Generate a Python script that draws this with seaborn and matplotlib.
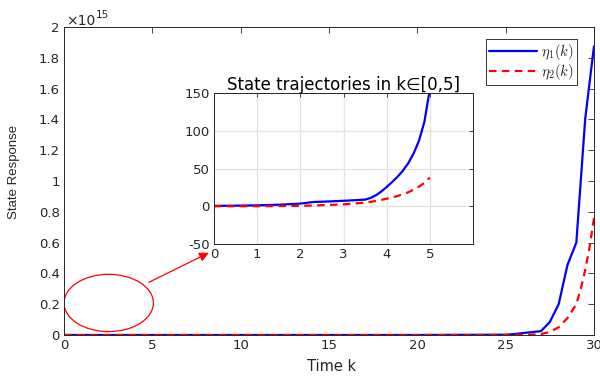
import numpy as np
import pandas as pd
import matplotlib
matplotlib.use("Agg")
import matplotlib.pyplot as plt
from matplotlib.patches import Ellipse
import seaborn as sns

# ---- data (main plot, values in units of 1e15) ----
k_main = [0, 5, 10, 15, 20, 25, 25.5, 26, 26.5, 27, 27.5, 28, 28.5, 29, 29.25, 29.5, 29.75, 30]
eta1_main = [0, 0, 0, 0, 0, 0.002, 0.006, 0.013, 0.019, 0.025, 0.085, 0.2, 0.455, 0.6, 1.0, 1.40, 1.64, 1.875]
eta2_main = [0, 0, 0, 0, 0, 0, 0.001, 0.002, 0.003, 0.006, 0.02, 0.05, 0.11, 0.2, 0.3, 0.42, 0.57, 0.76]

# ---- data (inset, k in [0,5]) ----
k_zoom = [0, 0.5, 1, 1.5, 2, 2.3, 2.5, 3, 3.5, 3.625, 3.75, 3.875, 4, 4.125, 4.25,
          4.375, 4.5, 4.625, 4.75, 4.875, 5]
eta1_zoom = [0.5, 0.8, 1.2, 2.0, 3.5, 5.6, 6.0, 7.2, 8.8, 11, 14.5, 19.5, 25.5, 32, 39,
             47, 57, 70, 87, 112, 155]
eta2_zoom = [0, 0, 0.1, 0.3, 0.6, 1.0, 1.4, 2.5, 4.8, 5.8, 7, 8.4, 10, 11.7, 13.5,
             16, 18.5, 22, 26, 31, 38]

main_xticks = [0, 5, 10, 15, 20, 25, 30]
main_yticks = [0, 0.2, 0.4, 0.6, 0.8, 1.0, 1.2, 1.4, 1.6, 1.8, 2.0]
zoom_xticks = [0, 1, 2, 3, 4, 5]
zoom_yticks = [-50, 0, 50, 100, 150]

sns.set_theme(style="white")
plt.rcParams['font.family'] = ['DejaVu Sans']
plt.rcParams['mathtext.fontset'] = 'cm'

W, H = 600, 376
fig = plt.figure(figsize=(6.0, 3.76), dpi=100)
ax = fig.add_axes([64/W, 1-335/H, 530/W, 308/H])

df_main = pd.DataFrame({'k': k_main, 'eta1': eta1_main, 'eta2': eta2_main})
sns.lineplot(data=df_main, x='k', y='eta1', ax=ax, color='#0000ff', lw=1.6,
             label=r'$\eta_1(k)$')
sns.lineplot(data=df_main, x='k', y='eta2', ax=ax, color='#ff0000', lw=1.6,
             linestyle=(0, (3.4, 2.4)), label=r'$\eta_2(k)$')

edge = '#262626'
ax.set_xlim(0, 30)
ax.set_ylim(0, 2)
ax.set_xticks(main_xticks)
ax.set_yticks(main_yticks)
ax.set_xticklabels([f'{v:g}' for v in main_xticks])
ax.set_yticklabels([f'{v:g}' for v in main_yticks])
ax.tick_params(direction='in', length=4, width=0.6, top=True, right=True,
               labelsize=9.5, colors=edge, pad=3)
for s in ax.spines.values():
    s.set_color(edge)
    s.set_linewidth(0.7)
ax.set_xlabel('Time k', fontsize=10.5, color=edge)
ax.xaxis.set_label_coords(0.505, -0.078)
ax.set_ylabel('State Response', fontsize=9.5, color=edge,
              family=['Liberation Sans', 'DejaVu Sans'])
ax.yaxis.set_label_coords(-0.083, 0.53)

# exponent label
fig.text(66/W, 1-25/H, '\u00d710', fontsize=10, color=edge, ha='left', va='baseline')
fig.text(96/W, 1-18/H, '15', fontsize=7.5, color=edge, ha='left', va='baseline')

leg = ax.legend(loc='upper right', bbox_to_anchor=((577-64)/530, (335-39)/308),
                borderaxespad=0, fancybox=False, frameon=True, fontsize=10.5,
                handlelength=3.3, handletextpad=0.3, borderpad=0.2, labelspacing=0.0)
leg.get_frame().set_edgecolor('black')
leg.get_frame().set_linewidth(0.7)

# ellipse + arrow
ax.add_patch(Ellipse((2.53, 0.208), 5.06, 0.372, fill=False, edgecolor='red', lw=0.9))
ax.annotate('', xy=(8.2, 0.534), xytext=(4.8, 0.342),
            arrowprops=dict(arrowstyle='-|>', color='red', lw=0.9,
                            mutation_scale=14, shrinkA=0, shrinkB=0))

# ---- inset ----
ax2 = fig.add_axes([214/W, 1-244/H, (473-214)/W, (244-93)/H])
df_zoom = pd.DataFrame({'k': k_zoom, 'eta1': eta1_zoom, 'eta2': eta2_zoom})
sns.lineplot(data=df_zoom, x='k', y='eta1', ax=ax2, color='#0000ff', lw=1.6)
sns.lineplot(data=df_zoom, x='k', y='eta2', ax=ax2, color='#ff0000', lw=1.6,
             linestyle=(0, (3.4, 2.4)))
ax2.set_xlim(0, 6)
ax2.set_ylim(-50, 150)
ax2.set_xticks(zoom_xticks)
ax2.set_yticks(zoom_yticks)
ax2.set_xticklabels([f'{v:g}' for v in zoom_xticks])
ax2.set_yticklabels([f'{v:g}' for v in zoom_yticks])
ax2.grid(True, color='#e3e3e3', lw=0.9)
ax2.set_axisbelow(True)
ax2.tick_params(direction='in', length=3, width=0.6, top=True, right=True,
                labelsize=9.5, colors=edge, pad=3)
for s in ax2.spines.values():
    s.set_color(edge)
    s.set_linewidth(0.7)
ax2.set_xlabel('')
ax2.set_ylabel('')
ax2.set_title('State trajectories in k\u2208[0,5]', fontsize=12, color='black', pad=2)

fig.savefig('out.png', dpi=100)
